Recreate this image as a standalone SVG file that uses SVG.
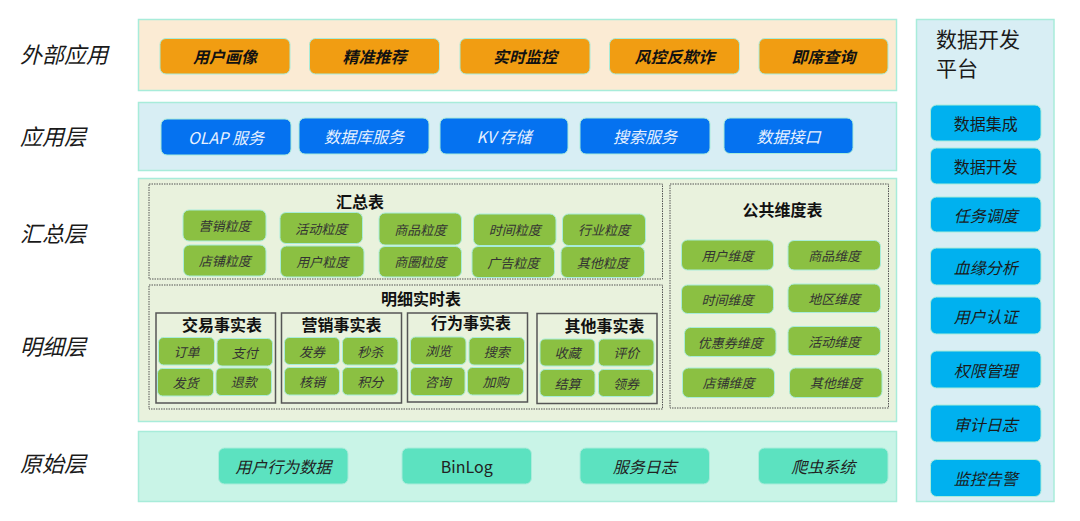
<svg xmlns="http://www.w3.org/2000/svg" width="1080" height="521" viewBox="0 0 1080 521">
<style>
text{font-family:"Noto Sans CJK SC","Noto Sans",sans-serif;}
.lbl{font-size:22px;fill:#1a1a1a;font-style:italic;}
.pnl{stroke:#A8ECDA;stroke-width:1.5;}
.ext{fill:#FBEBD4;}
.app{fill:#D8EEF4;}
.mid{fill:#E9F2DD;}
.raw{fill:#C9F4E7;}
.bo{fill:#F19D12;stroke:#A8ECDA;stroke-width:1;}
.bb{fill:#0572F0;stroke:#A8ECDA;stroke-width:1;}
.bg{fill:#8BC042;stroke:#A8ECDA;stroke-width:1;}
.bt{fill:#5CE2C0;stroke:#A8ECDA;stroke-width:1;}
.bc{fill:#00B1EF;stroke:#A8ECDA;stroke-width:1;}
.dot{fill:none;stroke:#555;stroke-width:1;stroke-dasharray:1.5 1;}
.fact{fill:none;stroke:#555;stroke-width:1.5;}
.to{font-size:16px;font-weight:bold;font-style:italic;fill:#111;text-anchor:middle;dominant-baseline:central;}
.tb{font-size:16px;font-style:italic;fill:#E8F1FF;text-anchor:middle;dominant-baseline:central;}
.tg{font-size:13px;font-style:italic;fill:#333;text-anchor:middle;dominant-baseline:central;}
.tt{font-size:16px;font-style:italic;fill:#222;text-anchor:middle;dominant-baseline:central;}
.tc{font-size:16px;fill:#1a1a1a;text-anchor:middle;dominant-baseline:central;}
.tci{font-size:16px;font-style:italic;fill:#1a1a1a;text-anchor:middle;dominant-baseline:central;}
.ttl{font-size:16px;font-weight:bold;fill:#111;text-anchor:middle;}
.ptl{font-size:21px;fill:#1a1a1a;}
</style>

<g id="labels">
<text class="lbl" x="20" y="63">外部应用</text>
<text class="lbl" x="20" y="145">应用层</text>
<text class="lbl" x="20" y="242">汇总层</text>
<text class="lbl" x="20" y="355">明细层</text>
<text class="lbl" x="20" y="472">原始层</text>
</g>

<g id="layer-external">
<rect class="pnl ext" x="138.5" y="19.5" width="758" height="71"/>
<g id="ext-1"><rect class="bo" x="160" y="38.5" width="130" height="35.5" rx="6"/><text class="to" x="225" y="56">用户画像</text></g>
<g id="ext-2"><rect class="bo" x="309.5" y="38.5" width="130" height="35.5" rx="6"/><text class="to" x="374.5" y="56">精准推荐</text></g>
<g id="ext-3"><rect class="bo" x="460" y="38.5" width="130" height="35.5" rx="6"/><text class="to" x="525" y="56">实时监控</text></g>
<g id="ext-4"><rect class="bo" x="609.5" y="38.5" width="130" height="35.5" rx="6"/><text class="to" x="674.5" y="56">风控反欺诈</text></g>
<g id="ext-5"><rect class="bo" x="759" y="38.5" width="129" height="35.5" rx="6"/><text class="to" x="823.5" y="56">即席查询</text></g>
</g>

<g id="layer-app">
<rect class="pnl app" x="138.5" y="102.5" width="758" height="68"/>
<g id="app-1"><rect class="bb" x="161" y="119" width="130" height="36" rx="6"/><text class="tb" x="226" y="137">OLAP 服务</text></g>
<g id="app-2"><rect class="bb" x="299" y="118" width="130" height="36" rx="6"/><text class="tb" x="364" y="136">数据库服务</text></g>
<g id="app-3"><rect class="bb" x="440" y="118" width="128" height="36" rx="6"/><text class="tb" x="504" y="136">KV 存储</text></g>
<g id="app-4"><rect class="bb" x="580" y="118" width="130" height="36" rx="6"/><text class="tb" x="645" y="136">搜索服务</text></g>
<g id="app-5"><rect class="bb" x="724" y="118" width="129" height="35.5" rx="6"/><text class="tb" x="788.5" y="136">数据接口</text></g>
</g>

<g id="layer-mid">
<rect class="pnl mid" x="138.5" y="178.5" width="758" height="243"/>

<g id="summary-table">
<rect class="dot" x="149" y="184" width="513.5" height="95"/>
<text class="ttl" x="360" y="208">汇总表</text>
<g id="s-1"><rect class="bg" x="183" y="210" width="83" height="31" rx="6"/><text class="tg" x="224.5" y="225.5">营销粒度</text></g>
<g id="s-2"><rect class="bg" x="280" y="212.5" width="82.5" height="31" rx="6"/><text class="tg" x="321.3" y="228">活动粒度</text></g>
<g id="s-3"><rect class="bg" x="379" y="213" width="82.5" height="32" rx="6"/><text class="tg" x="420.3" y="229">商品粒度</text></g>
<g id="s-4"><rect class="bg" x="473.5" y="214" width="82.5" height="31.5" rx="6"/><text class="tg" x="514.8" y="229.8">时间粒度</text></g>
<g id="s-5"><rect class="bg" x="562.5" y="214" width="83" height="31.5" rx="6"/><text class="tg" x="604" y="229.8">行业粒度</text></g>
<g id="s-6"><rect class="bg" x="183.5" y="245" width="82.5" height="31" rx="6"/><text class="tg" x="224.8" y="260.5">店铺粒度</text></g>
<g id="s-7"><rect class="bg" x="280.5" y="246" width="83.5" height="31" rx="6"/><text class="tg" x="322.3" y="261.5">用户粒度</text></g>
<g id="s-8"><rect class="bg" x="379" y="246.5" width="82.5" height="30.5" rx="6"/><text class="tg" x="420.3" y="261.8">商圈粒度</text></g>
<g id="s-9"><rect class="bg" x="472" y="246.5" width="82.5" height="31" rx="6"/><text class="tg" x="513.3" y="262">广告粒度</text></g>
<g id="s-10"><rect class="bg" x="561" y="246.5" width="83.5" height="31" rx="6"/><text class="tg" x="602.8" y="262">其他粒度</text></g>
</g>

<g id="detail-table">
<rect class="dot" x="149" y="285" width="513.5" height="124"/>
<text class="ttl" x="421" y="305">明细实时表</text>

<g id="fact-trade">
<rect class="fact" x="156" y="313" width="119.5" height="90"/>
<text class="ttl" x="222" y="330.5">交易事实表</text>
<g id="f-1"><rect class="bg" x="158.5" y="337.5" width="56" height="27.5" rx="5"/><text class="tg" x="186.5" y="351.3">订单</text></g>
<g id="f-2"><rect class="bg" x="217" y="338.5" width="55.5" height="27.5" rx="5"/><text class="tg" x="244.8" y="352.3">支付</text></g>
<g id="f-3"><rect class="bg" x="157.5" y="368.5" width="56" height="27.5" rx="5"/><text class="tg" x="185.5" y="382.3">发货</text></g>
<g id="f-4"><rect class="bg" x="216" y="368" width="55.5" height="27.5" rx="5"/><text class="tg" x="243.8" y="381.8">退款</text></g>
</g>

<g id="fact-marketing">
<rect class="fact" x="281.5" y="313" width="120" height="90"/>
<text class="ttl" x="341.5" y="330.5">营销事实表</text>
<g id="f-5"><rect class="bg" x="284.5" y="337.5" width="55" height="27" rx="5"/><text class="tg" x="312" y="351">发券</text></g>
<g id="f-6"><rect class="bg" x="342.5" y="337.5" width="55.5" height="27.5" rx="5"/><text class="tg" x="370.3" y="351.3">秒杀</text></g>
<g id="f-7"><rect class="bg" x="284.5" y="367.5" width="55" height="27.5" rx="5"/><text class="tg" x="312" y="381.3">核销</text></g>
<g id="f-8"><rect class="bg" x="342.5" y="367.5" width="55.5" height="27.5" rx="5"/><text class="tg" x="370.3" y="381.3">积分</text></g>
</g>

<g id="fact-behavior">
<rect class="fact" x="407.5" y="313" width="120" height="89"/>
<text class="ttl" x="471" y="329">行为事实表</text>
<g id="f-9"><rect class="bg" x="410.5" y="337" width="55.5" height="27.5" rx="5"/><text class="tg" x="438.3" y="350.8">浏览</text></g>
<g id="f-10"><rect class="bg" x="469" y="337.5" width="55.5" height="27.5" rx="5"/><text class="tg" x="496.8" y="351.3">搜索</text></g>
<g id="f-11"><rect class="bg" x="410.5" y="367.5" width="54.5" height="28" rx="5"/><text class="tg" x="437.8" y="381.5">咨询</text></g>
<g id="f-12"><rect class="bg" x="467.5" y="367.5" width="56" height="27.5" rx="5"/><text class="tg" x="495.5" y="381.3">加购</text></g>
</g>

<g id="fact-other">
<rect class="fact" x="537" y="313.5" width="120" height="90"/>
<text class="ttl" x="604.5" y="332">其他事实表</text>
<g id="f-13"><rect class="bg" x="540" y="339" width="55" height="27" rx="5"/><text class="tg" x="567.5" y="352.5">收藏</text></g>
<g id="f-14"><rect class="bg" x="598.5" y="339" width="55.5" height="27" rx="5"/><text class="tg" x="626.3" y="352.5">评价</text></g>
<g id="f-15"><rect class="bg" x="540" y="369.5" width="55" height="27" rx="5"/><text class="tg" x="567.5" y="383">结算</text></g>
<g id="f-16"><rect class="bg" x="598.5" y="369.5" width="55" height="27" rx="5"/><text class="tg" x="626" y="383">领券</text></g>
</g>
</g>

<g id="dimension-table">
<rect class="dot" x="670" y="184" width="218.5" height="224"/>
<text class="ttl" x="782.5" y="215.5">公共维度表</text>
<g id="d-1"><rect class="bg" x="681.5" y="240" width="92" height="30" rx="6"/><text class="tg" x="727.5" y="255">用户维度</text></g>
<g id="d-2"><rect class="bg" x="788" y="240.5" width="92.5" height="29.5" rx="6"/><text class="tg" x="834.3" y="255.3">商品维度</text></g>
<g id="d-3"><rect class="bg" x="681.5" y="285" width="92" height="28.5" rx="6"/><text class="tg" x="727.5" y="299.3">时间维度</text></g>
<g id="d-4"><rect class="bg" x="788" y="284" width="92.5" height="28.5" rx="6"/><text class="tg" x="834.3" y="298.3">地区维度</text></g>
<g id="d-5"><rect class="bg" x="684.5" y="327.5" width="91.5" height="29" rx="6"/><text class="tg" x="730.3" y="342">优惠券维度</text></g>
<g id="d-6"><rect class="bg" x="788" y="326.5" width="92.5" height="29" rx="6"/><text class="tg" x="834.3" y="341">活动维度</text></g>
<g id="d-7"><rect class="bg" x="682.5" y="368" width="92" height="29.5" rx="6"/><text class="tg" x="728.5" y="382.8">店铺维度</text></g>
<g id="d-8"><rect class="bg" x="789.5" y="368" width="92.5" height="29.5" rx="6"/><text class="tg" x="835.8" y="382.8">其他维度</text></g>
</g>
</g>

<g id="layer-raw">
<rect class="pnl raw" x="138.5" y="431.5" width="758" height="70"/>
<g id="r-1"><rect class="bt" x="218.5" y="448" width="129.5" height="36" rx="6"/><text class="tt" x="283.3" y="466">用户行为数据</text></g>
<g id="r-2"><rect class="bt" x="402" y="448" width="129.5" height="36" rx="6"/><text class="tt" x="466.8" y="466" style="font-style:normal">BinLog</text></g>
<g id="r-3"><rect class="bt" x="580" y="448" width="129.5" height="36" rx="6"/><text class="tt" x="644.8" y="466">服务日志</text></g>
<g id="r-4"><rect class="bt" x="758.5" y="448" width="129.5" height="36" rx="6"/><text class="tt" x="823.3" y="466">爬虫系统</text></g>
</g>

<g id="platform">
<rect class="pnl app" x="916.5" y="19.5" width="137.5" height="482"/>
<text class="ptl" x="936" y="47">数据开发</text>
<text class="ptl" x="936" y="76">平台</text>
<g id="p-1"><rect class="bc" x="930.5" y="105" width="110.5" height="36" rx="6"/><text class="tc" x="985.8" y="123">数据集成</text></g>
<g id="p-2"><rect class="bc" x="930.5" y="148" width="110.5" height="36" rx="6"/><text class="tc" x="985.8" y="166">数据开发</text></g>
<g id="p-3"><rect class="bc" x="930.5" y="197" width="110.5" height="35" rx="6"/><text class="tci" x="985.8" y="214.5">任务调度</text></g>
<g id="p-4"><rect class="bc" x="930.5" y="248" width="110.5" height="37" rx="6"/><text class="tci" x="985.8" y="266.5">血缘分析</text></g>
<g id="p-5"><rect class="bc" x="930.5" y="297" width="110.5" height="37" rx="6"/><text class="tci" x="985.8" y="315.5">用户认证</text></g>
<g id="p-6"><rect class="bc" x="930.5" y="351" width="110.5" height="37" rx="6"/><text class="tci" x="985.8" y="369.5">权限管理</text></g>
<g id="p-7"><rect class="bc" x="930.5" y="405" width="110.5" height="37" rx="6"/><text class="tci" x="985.8" y="423.5">审计日志</text></g>
<g id="p-8"><rect class="bc" x="930.5" y="459.5" width="110.5" height="37" rx="6"/><text class="tci" x="985.8" y="478">监控告警</text></g>
</g>

<g id="connectors"/>
</svg>
